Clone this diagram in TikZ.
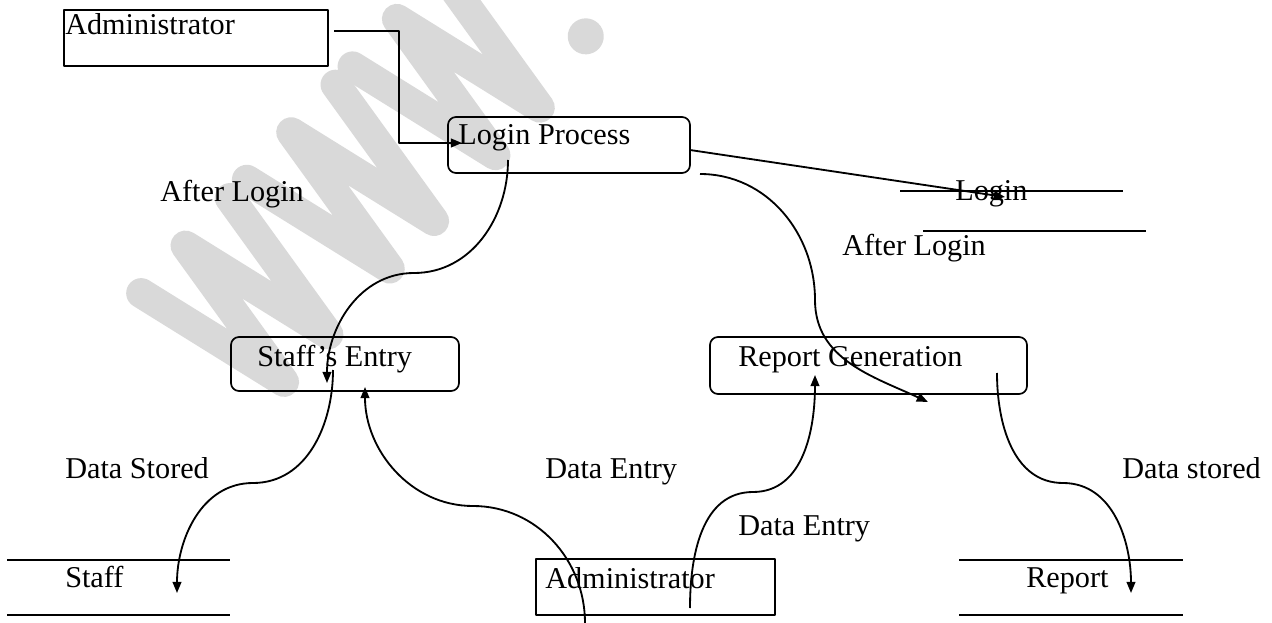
\documentclass[tikz,border=0pt]{standalone}
\usepackage{fontspec}
\setmainfont{Liberation Serif}
\usetikzlibrary{arrows.meta,fit}

\tikzset{
  box/.style={draw, line width=1.2pt, inner sep=0pt},
  proc/.style={box, rounded corners=2mm},
  txt/.style={anchor=base west, inner sep=0pt},
  flow/.style={line width=1.3pt},
  store/.style={line width=1pt},
  wmark/.style={black!15, line width=.75cm, line cap=round, line join=round}
}

\begin{document}
\begin{tikzpicture}[x=.025cm, y=-.025cm, font=\fontsize{21.5}{26}\selectfont, line join=round, >={Triangle[length=2.8mm, width=2.2mm]}]
\fill[white] (0,0) rectangle (1272,623);
\useasboundingbox (0,0) rectangle (1272,623);

% watermark behind everything
\begin{scope}
\clip (0,0) rectangle (1272,623);
\begin{scope}[shift={(283,383)}, rotate=47, y=.025cm, wmark]
\foreach \s in {-31,124,279}
  \draw (\s,165) -- ++(32.5,-165) -- ++(32.5,165) -- ++(32.5,-165) -- ++(32.5,165);
\fill (460,15) circle (18);
\end{scope}
\end{scope}

% entities and processes
\node[box, fit={(64,10)(328,66)}] (admin) {};
\node[proc, fit={(448,117)(690,173)}] (login) {};
\node[proc, fit={(231,337)(459,391)}] (staffe) {};
\node[proc, fit={(710,337)(1027,394)}] (repgen) {};
\node[box, fit={(536,559)(775,615)}] (admin2) {};

\node[txt] (admin-t) at (65,35) {Administrator};
\node[txt] (login-t) at (458,145) {Login Process};
\node[txt] (staffe-t) at (257,367) {Staff's Entry};
\node[txt] (repgen-t) at (738,367) {Report Generation};
\node[txt] (admin2-t) at (545,588) {Administrator};

% data stores
\node[txt] (logst) at (955,201) {Login};
\node[txt] (staffst) at (65,587) {Staff};
\node[txt] (repst) at (1026,587) {Report};
\draw[store] (900,191) -- (1123,191) (923,231) -- (1146,231);
\draw[store] (7,560) -- (230,560) (7,615) -- (230,615);
\draw[store] (959,560) -- (1183,560) (959,615) -- (1183,615);

% flow labels
\node[txt] (al1) at (160,202) {After Login};
\node[txt] (al2) at (842,256) {After Login};
\node[txt] (ds1) at (65,478) {Data Stored};
\node[txt] (de1) at (545,478) {Data Entry};
\node[txt] (de2) at (738,535) {Data Entry};
\node[txt] (ds2) at (1122,478) {Data stored};

\path
(334,31) coordinate (admin-out)
(462,143) coordinate (login-in)
(690,150) coordinate (login-out)
(1005,197) coordinate (logst-in)
(508,160) coordinate (login-down)
(700,174) coordinate (login-right)
(327,383) coordinate (staffe-in)
(333,370) coordinate (staffe-out)
(365,387) coordinate (staffe-up)
(928,402) coordinate (repgen-in)
(815,375) coordinate (repgen-up)
(997,373) coordinate (repgen-out)
(585,623) coordinate (admin2-a)
(690,608) coordinate (admin2-b)
(177,593) coordinate (staffst-in)
(1131,593) coordinate (repst-in);

% flows
\draw[flow, ->] (admin-out) -- ++(65,0) |- (login-in);
\draw[flow, ->] (login-out) -- (logst-in);
\draw[flow, ->] (login-down) to[out=-90, in=0] (414,273) to[out=180, in=90] (staffe-in);
\draw[flow, ->] (login-right) to[out=0, in=90] (815,300) to[out=-90, in=155] (repgen-in);
\draw[flow, ->] (staffe-out) to[out=-90, in=0] (253,483) to[out=180, in=90] (staffst-in);
\draw[flow, ->] (admin2-a) to[out=90, in=0] (473,506) to[out=180, in=-90] (staffe-up);
\draw[flow, ->] (admin2-b) to[out=90, in=180] (753,492) to[out=0, in=-90] (repgen-up);
\draw[flow, ->] (repgen-out) to[out=-90, in=180] (1063,483) to[out=0, in=90] (repst-in);
\end{tikzpicture}
\end{document}
